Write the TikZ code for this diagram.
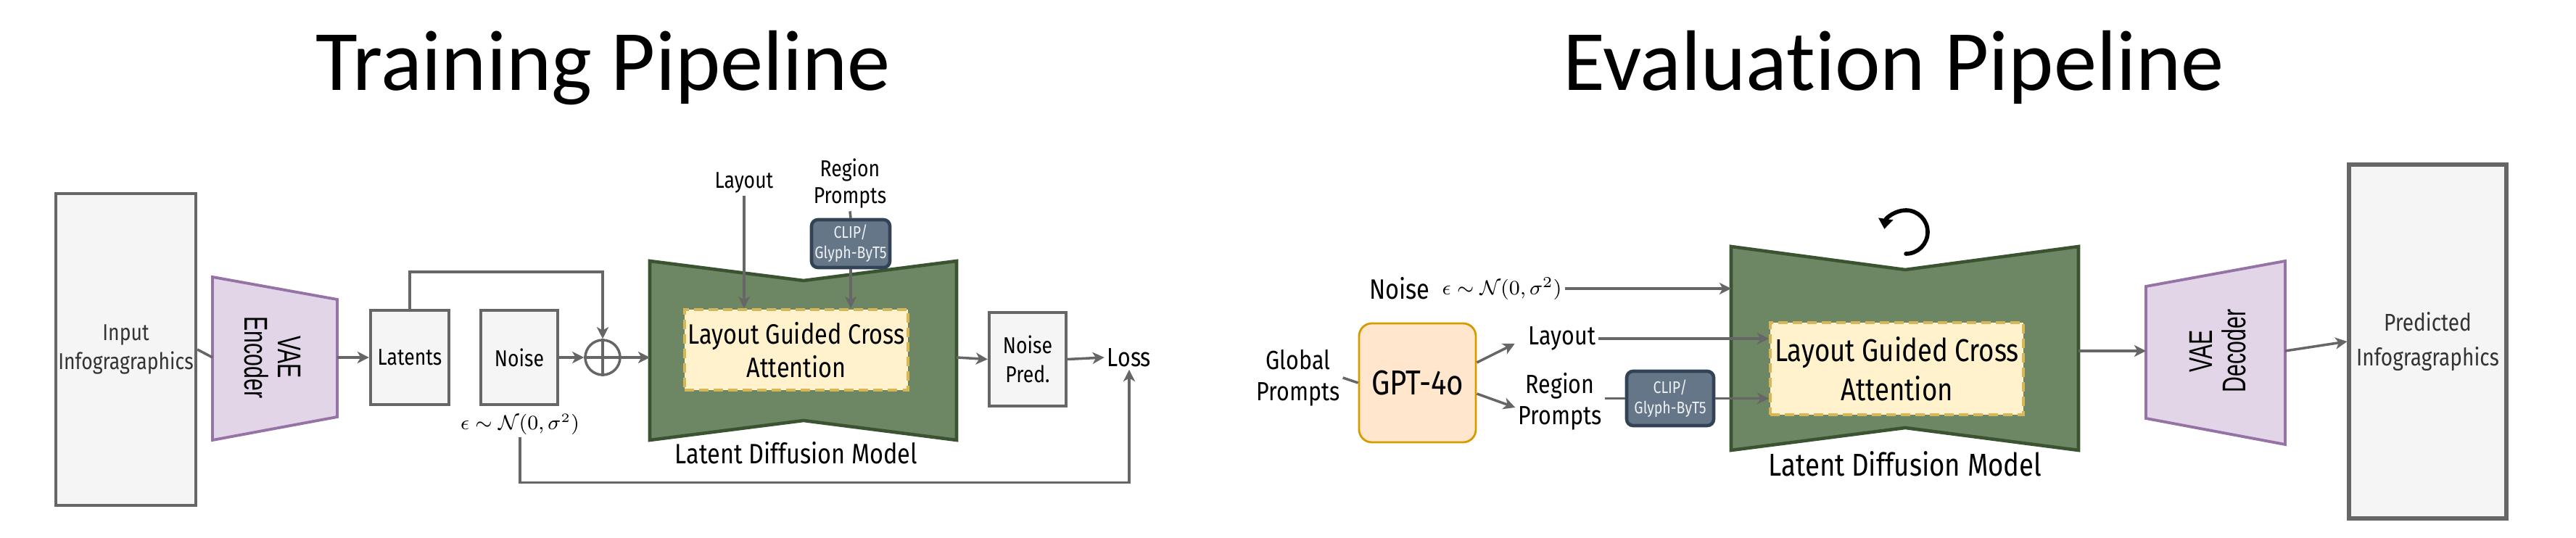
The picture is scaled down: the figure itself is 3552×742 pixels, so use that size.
\documentclass[tikz,border=0pt]{standalone}
\usepackage{fontspec}
\usepackage{amsmath}
\usetikzlibrary{arrows.meta}
\newfontfamily\labelfont[FakeStretch=0.84]{Fira Sans}
\newfontfamily\titlefont[Ligatures=NoCommon]{Carlito}
\newfontfamily\vaefont{Liberation Sans}

\definecolor{boxgray}{HTML}{F5F5F5}
\definecolor{linegray}{HTML}{666666}
\definecolor{vaefill}{HTML}{E1D5E7}
\definecolor{vaeline}{HTML}{9673A6}
\definecolor{ldmfill}{HTML}{6D8764}
\definecolor{ldmline}{HTML}{3A5431}
\definecolor{attfill}{HTML}{FFF2CC}
\definecolor{attline}{HTML}{D6B656}
\definecolor{clipfill}{HTML}{647687}
\definecolor{clipline}{HTML}{314354}
\definecolor{gptfill}{HTML}{FFE6CC}
\definecolor{gptline}{HTML}{D79B00}

\tikzset{
  graybox/.style={draw=linegray, fill=boxgray, line width=1.2pt, inner sep=0pt, align=center,
    font=\labelfont\fontsize{9}{11.4}\selectfont},
  vae/.style={draw=vaeline, fill=vaefill, line width=1.1pt},
  vaetext/.style={align=center, inner sep=0pt, font=\vaefont\fontsize{8.6}{8.6}\selectfont},
  ldm/.style={draw=ldmline, fill=ldmfill, line width=1.3pt},
  attbox/.style={draw=attline, fill=attfill, line width=1.1pt, dash pattern=on 3.7pt off 2pt,
    align=center, inner sep=0pt},
  clipbox/.style={draw=clipline, fill=clipfill, line width=1.3pt, rounded corners=2.5pt,
    text=white!90!clipfill, align=center, inner sep=0pt, font=\labelfont\fontsize{6.6}{8}\selectfont},
  lbl/.style={align=center, inner sep=1pt, font=\labelfont\fontsize{9}{10.5}\selectfont},
  evallbl/.style={lbl, font=\labelfont\fontsize{10.3}{12.2}\selectfont},
  ttl/.style={anchor=base, font=\titlefont\fontsize{33.7}{40}\selectfont},
  arr/.style={draw=linegray, line width=1pt, -{Stealth[length=4.6pt,width=4.6pt,inset=1.3pt]}},
  ln/.style={draw=linegray, line width=1pt},
}

\begin{document}
\begin{tikzpicture}[x=0.1mm,y=-0.1mm]
    \useasboundingbox (0,0) rectangle (3552,742);

    % titles
    \node[ttl] (ttrain) at (832,125) {Training Pipeline};
    \node[ttl] (teval) at (2611,125) {Evaluation Pipeline};

    % training pipeline
    \node[graybox, minimum width=19.3mm, minimum height=43mm, text=black!80] (input) at (173.5,482) {Input\\Infogragraphics};

    \draw[vae] (293,382) -- (465,413) -- (465,575) -- (293,607) -- cycle;
    \node[vaetext, rotate=-90, yscale=1.5] (enc) at (376,493) {VAE\\Encoder};
    \coordinate (encin) at (293,493);
    \coordinate (encout) at (465,493);

    \node[graybox, minimum width=10.8mm, minimum height=13mm] (lat) at (565,493) {Latents};
    \node[graybox, minimum width=10.6mm, minimum height=13mm] (noise) at (716,493) {Noise};
    \node[lbl, font=\fontsize{7.7}{9}\selectfont] (eps) at (717,585) {$\epsilon\sim\mathcal{N}(0,\sigma^2)$};
    \node[draw=linegray, line width=1pt, circle, minimum size=4.8mm, inner sep=0pt] (plus) at (831,493) {};
    \draw[ln] (plus.north) -- (plus.south) (plus.west) -- (plus.east);

    \draw[ldm] (896,360) -- (1108,387) -- (1319,360) -- (1319,607) -- (1108,580) -- (896,607) -- cycle;
    \coordinate (ldmin) at (896,493);
    \coordinate (ldmout) at (1319,493);
    \node[attbox, minimum width=30.8mm, minimum height=11.1mm, font=\labelfont\fontsize{11}{13}\selectfont] (att) at (1098,482.5) {Layout Guided Cross\\Attention};
    \node[lbl, font=\labelfont\fontsize{11}{13}\selectfont] (ldmlbl) at (1098,625) {Latent Diffusion Model};

    \node[lbl] (lay) at (1026,252) {Layout};
    \node[lbl] (reg) at (1172,253) {Region\\Prompts};
    \node[clipbox, minimum width=10.8mm, minimum height=6.6mm] (clip) at (1173,336) {CLIP/\\Glyph-ByT5};

    \node[graybox, minimum width=10.6mm, minimum height=12.9mm] (pred) at (1417,495.5) {Noise\\Pred.};
    \node[lbl, font=\labelfont\fontsize{10.3}{12}\selectfont] (loss) at (1557,493) {Loss};

    \draw[ln] (input.east) -- (encin);
    \draw[arr] (encout) -- (lat.west);
    \draw[arr] (lat.north) -- ++(0,-51) -| (plus.north);
    \draw[arr] (noise.east) -- (plus.west);
    \draw[arr] (plus.east) -- (ldmin);
    \draw[arr] (lay.south) -- (lay.south |- att.north);
    \draw[ln] (reg.south) -- (clip.north);
    \draw[arr] (clip.south) -- (clip.south |- att.north);
    \draw[arr] (ldmout) -- (pred.west);
    \draw[arr] (pred.east) -- (loss.west);
    \draw[arr] (eps.south) -- ++(0,62) -| (loss.south);

    % evaluation pipeline
    \node[evallbl] (glob) at (1790,521) {Global\\Prompts};
    \node[draw=gptline, fill=gptfill, line width=0.8pt, rounded corners=5pt, minimum width=16.1mm, minimum height=16.4mm,
      font=\labelfont\fontsize{13.6}{15}\selectfont] (gpt) at (1954.5,528) {GPT-4o};
    \node[evallbl, font=\labelfont\fontsize{11}{13}\selectfont] (noise2) at (1930,398) {Noise};
    \node[lbl, font=\fontsize{8.5}{10}\selectfont] (eps2) at (2071,398) {$\epsilon\sim\mathcal{N}(0,\sigma^2)$};
    \node[evallbl] (lay2) at (2154,467) {Layout};
    \node[evallbl] (reg2) at (2151,554) {Region\\Prompts};
    \node[clipbox, minimum width=12mm, minimum height=7.5mm] (clip2) at (2303,549.5) {CLIP/\\Glyph-ByT5};

    \draw[ldm] (2387,340) -- (2627,372) -- (2866,340) -- (2866,621) -- (2627,590) -- (2387,621) -- cycle;
    \coordinate (ldm2in) at (2387,397);
    \coordinate (ldm2out) at (2866,484);
    \node[attbox, minimum width=34.9mm, minimum height=12.7mm, font=\labelfont\fontsize{12.4}{15.4}\selectfont] (att2) at (2615.5,508.5) {Layout Guided Cross\\Attention};
    \node[lbl, font=\labelfont\fontsize{12.4}{14}\selectfont] (ldmlbl2) at (2627,640) {Latent Diffusion Model};
    \coordinate (loop) at (2628,320);
    \draw[line width=1.6pt, line cap=round, -{Triangle[length=4pt,width=5.6pt]}] (loop) ++(0,30) arc[start angle=90, end angle=-172, radius=30];

    \draw[vae] (2959,395) -- (3151,360) -- (3151,613) -- (2959,577) -- cycle;
    \node[vaetext, rotate=90, yscale=1.5] (dec) at (3058,484) {VAE\\Decoder};
    \coordinate (decin) at (2959,484);
    \coordinate (decout) at (3151,484);

    \node[graybox, minimum width=21.7mm, minimum height=48.8mm, line width=1.5pt, text=black!80,
      font=\labelfont\fontsize{9.5}{13.7}\selectfont] (out) at (3347.5,471) {Predicted\\Infogragraphics};

    \draw[ln] (glob.east) -- (gpt.west);
    \draw[arr] ([yshift=2.8mm]gpt.east) -- ([xshift=-1.5mm,yshift=-0.7mm]lay2.west);
    \draw[arr] ([yshift=-1.5mm]gpt.east) -- ([yshift=-0.8mm]reg2.west);
    \draw[arr] (eps2.east) -- (eps2.east -| ldm2in);
    \draw[arr] (lay2.east) -- (lay2.east -| att2.west);
    \draw[ln] (reg2.east |- clip2.west) -- (clip2.west);
    \draw[arr] (clip2.east) -- (clip2.east -| att2.west);
    \draw[arr] (ldm2out) -- (decin);
    \draw[arr] (decout) -- (out.west);
\end{tikzpicture}
\end{document}
